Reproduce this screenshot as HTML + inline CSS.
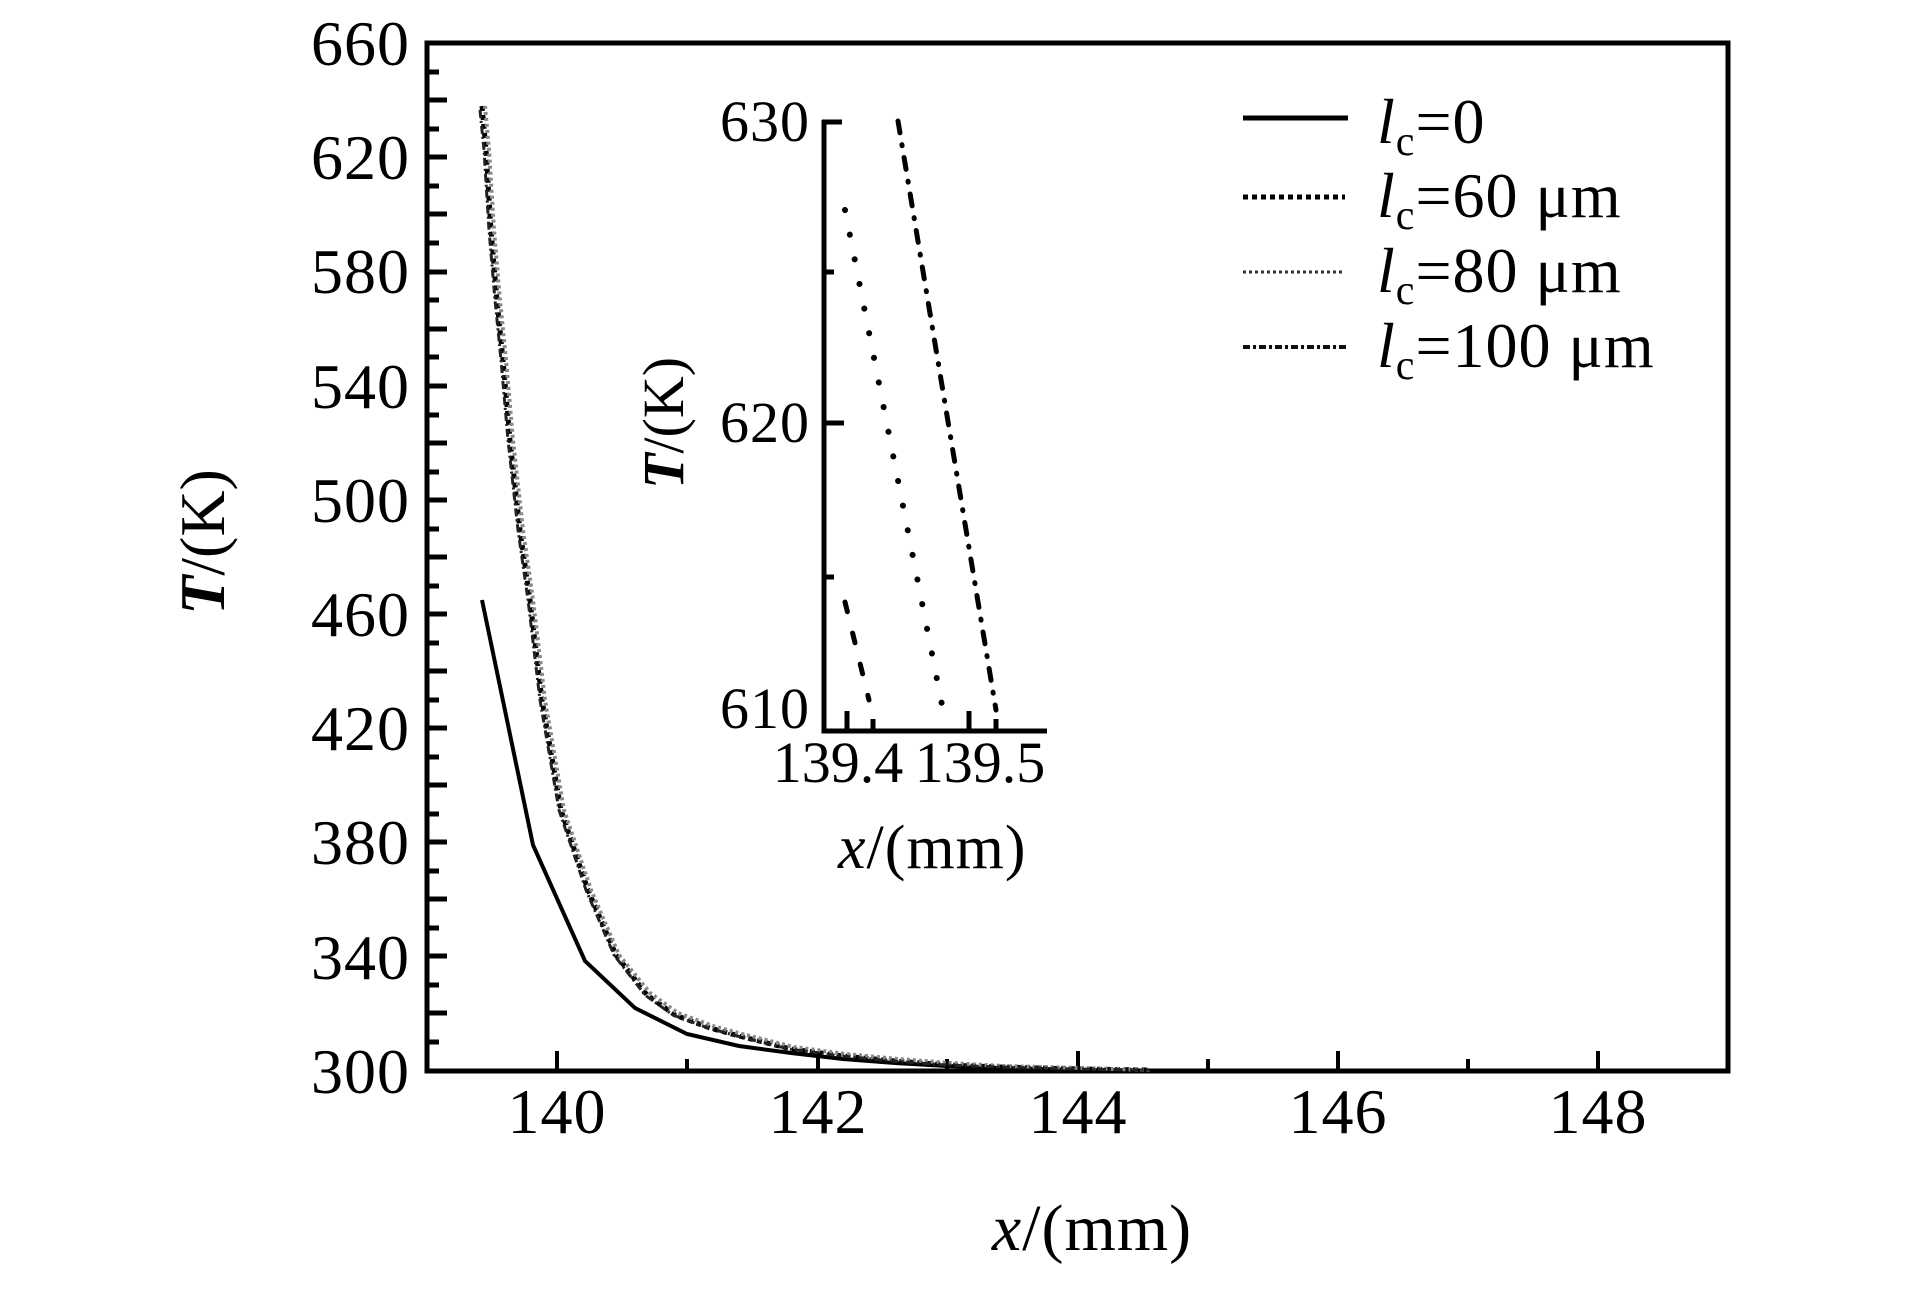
<!DOCTYPE html>
<html><head><meta charset="utf-8"><style>
html,body{margin:0;padding:0;background:#fff}
svg{display:block}
text{font-family:"Liberation Serif",serif;fill:#000}
</style></head><body>
<svg width="1923" height="1299" viewBox="0 0 1923 1299" xmlns="http://www.w3.org/2000/svg">
<rect width="1923" height="1299" fill="#fff"/>
<rect x="427" y="43" width="1301" height="1028" fill="none" stroke="#000" stroke-width="5"/>
<g stroke="#000" stroke-width="5">
<path d="M427 72h12M427 129h12M427 186h12M427 243h12M427 300h12M427 357h12M427 415h12M427 472h12M427 529h12M427 586h12M427 643h12M427 700h12M427 757h12M427 814h12M427 871h12M427 928h12M427 985h12M427 1042h12"/>
<path d="M427 100h20M427 157h20M427 214h20M427 272h20M427 329h20M427 386h20M427 443h20M427 500h20M427 557h20M427 614h20M427 671h20M427 728h20M427 785h20M427 842h20M427 899h20M427 956h20M427 1013h20"/>
</g>
<g stroke="#000" stroke-width="4">
<path d="M557 1071v-20M818 1071v-20M1078 1071v-20M1338 1071v-20M1598 1071v-20"/>
<path d="M687 1071v-12M947 1071v-12M1208 1071v-12M1468 1071v-12"/>
</g>
<g font-size="64" text-anchor="end" letter-spacing="1">
<text x="410" y="65">660</text>
<text x="410" y="179">620</text>
<text x="410" y="293">580</text>
<text x="410" y="408">540</text>
<text x="410" y="522">500</text>
<text x="410" y="636">460</text>
<text x="410" y="750">420</text>
<text x="410" y="864">380</text>
<text x="410" y="979">340</text>
<text x="410" y="1093">300</text>
</g>
<g font-size="64" text-anchor="middle" letter-spacing="1">
<text x="557" y="1133">140</text>
<text x="818" y="1133">142</text>
<text x="1078" y="1133">144</text>
<text x="1338" y="1133">146</text>
<text x="1598" y="1133">148</text>
</g>
<text x="1092" y="1250" font-size="66" text-anchor="middle" letter-spacing="1"><tspan font-style="italic">x</tspan>/(mm)</text>
<text transform="translate(224,542) rotate(-90)" font-size="64" text-anchor="middle"><tspan font-style="italic" font-weight="bold">T</tspan>/(K)</text>

<polyline fill="none" stroke="#000" stroke-width="4" points="482,600 533,845 585,961 635,1008 687,1034 739,1046 791,1053 843,1059 895,1063 947,1066 1000,1068 1078,1070 1200,1071"/>
<g fill="none" stroke-linejoin="round">
<path d="M482,106 L486,150 L491,230 L497,300 L503,360 L510,440 L520,530 L530,600 L542,700 L561,810 L588,890 L616,955 L647,995 L675,1015 L710,1028 L739,1036 L791,1049 L843,1056 L895,1061 L947,1065 L1000,1067 L1078,1069 L1150,1070" stroke="#000" stroke-width="5" stroke-dasharray="5 4"/>
<path d="M485,106 L489,150 L494,230 L500,300 L506,360 L513,440 L523,530 L533,600 L545,700 L564,810 L591,890 L619,955 L650,993 L678,1013 L713,1026 L742,1034 L794,1047 L846,1054 L898,1059 L950,1063 L1003,1066 L1081,1068 L1150,1070" stroke="#888" stroke-width="4" stroke-dasharray="3 3"/>
<path d="M480,110 L484,150 L489,230 L495,300 L501,360 L508,440 L518,530 L528,600 L540,700 L559,810 L586,890 L614,955 L645,995 L673,1015 L708,1028 L737,1036 L789,1049 L841,1056 L893,1061 L945,1065 L998,1067 L1076,1069 L1150,1070" stroke="#222" stroke-width="3" stroke-dasharray="8 3 2 3"/>
</g>

<path d="M822 122h20M824 272h10M824 423h20M824 577h10" stroke="#000" stroke-width="5"/>
<path d="M824 120V731H1047" fill="none" stroke="#000" stroke-width="5"/>
<path d="M847 729v-18M873 729v-10M969 729v-18M996 729v-10" stroke="#000" stroke-width="5"/>
<path d="M898,121 L996,710" stroke="#000" stroke-width="5" stroke-linecap="round" stroke-dasharray="12 12 1 12" fill="none"/>
<path d="M845,210 L943,710" stroke="#000" stroke-width="6" stroke-linecap="round" stroke-dasharray="0.1 25" fill="none"/>
<path d="M845,602 L869,700" stroke="#000" stroke-width="5" stroke-linecap="round" stroke-dasharray="10 22" fill="none"/>
<g font-size="58" text-anchor="end" letter-spacing="1">
<text x="810" y="141">630</text>
<text x="810" y="442">620</text>
<text x="810" y="728">610</text>
</g>
<g font-size="58" text-anchor="middle">
<text x="838" y="782">139.4</text>
<text x="980" y="782">139.5</text>
</g>
<text x="838" y="868" font-size="62" letter-spacing="1"><tspan font-style="italic">x</tspan>/(mm)</text>
<text transform="translate(683,423) rotate(-90)" font-size="58" text-anchor="middle"><tspan font-style="italic" font-weight="bold">T</tspan>/(K)</text>

<path d="M1243 118H1348" stroke="#000" stroke-width="5"/>
<path d="M1243 197H1345" stroke="#000" stroke-width="5" stroke-dasharray="5 4"/>
<path d="M1243 272H1345" stroke="#333" stroke-width="3" stroke-dasharray="3 3"/>
<path d="M1243 347H1346" stroke="#111" stroke-width="4" stroke-dasharray="7 3 3 3"/>
<g font-size="64" letter-spacing="1">
<text x="1377" y="143"><tspan font-style="italic">l</tspan><tspan font-size="42" dy="12">c</tspan><tspan dy="-12">=0</tspan></text>
<text x="1377" y="217"><tspan font-style="italic">l</tspan><tspan font-size="42" dy="12">c</tspan><tspan dy="-12">=60 μm</tspan></text>
<text x="1377" y="292"><tspan font-style="italic">l</tspan><tspan font-size="42" dy="12">c</tspan><tspan dy="-12">=80 μm</tspan></text>
<text x="1377" y="367"><tspan font-style="italic">l</tspan><tspan font-size="42" dy="12">c</tspan><tspan dy="-12">=100 μm</tspan></text>
</g>
</svg>
</body></html>
